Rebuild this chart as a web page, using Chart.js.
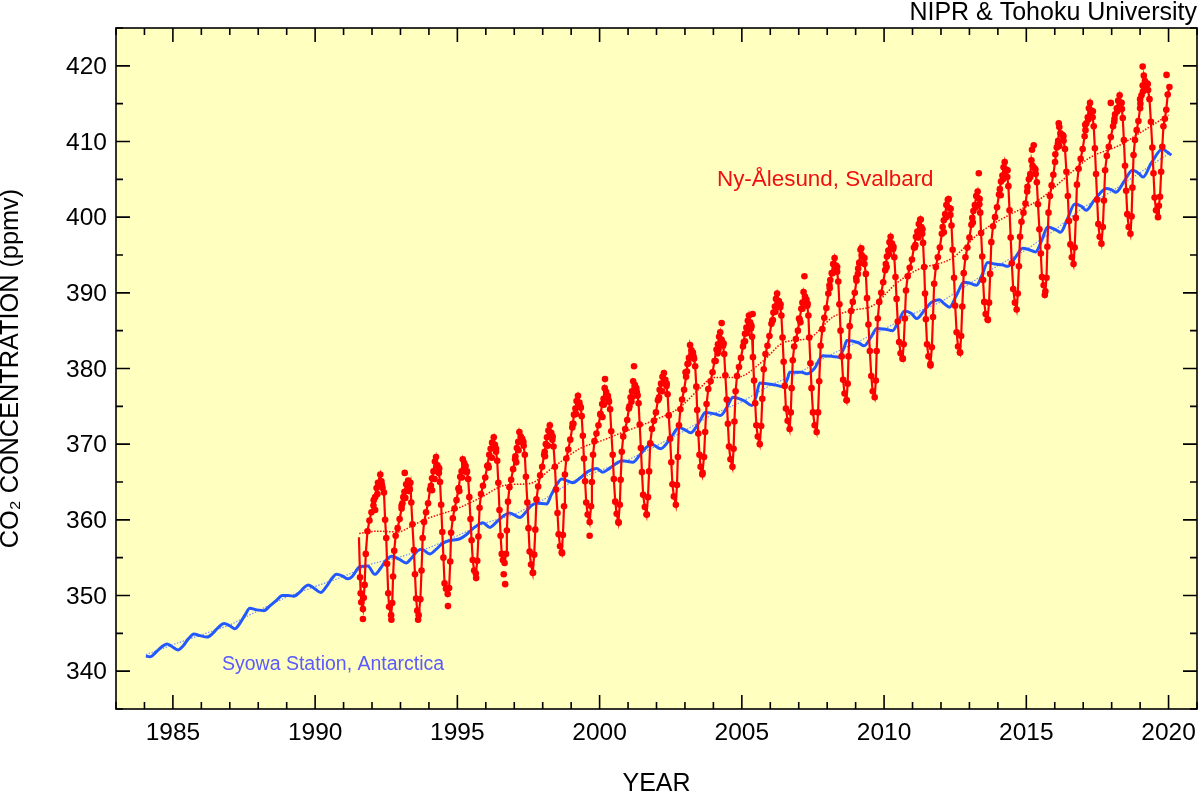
<!DOCTYPE html>
<html>
<head>
<meta charset="utf-8">
<title>CO2 concentration</title>
<script src="https://cdn.jsdelivr.net/npm/chart.js@4"></script>
<style>
  html, body { margin: 0; padding: 0; background: #fff; }
  canvas { display: block; }
</style>
</head>
<body>
<canvas id="co2Chart" width="1200" height="792"></canvas>
<script>
// ── DATA ──────────────────────────────────────────────────────────
// Ny-Ålesund: one row per seasonal cycle
const nyYears = [
  1991.54,1991.58,1991.60,1991.62,1991.68,
  1991.71,1991.74,1991.78,1991.84,1991.91,1991.98,1992.05,1992.11,1992.16,1992.21,1992.29,1992.33,1992.37,1992.42,1992.46,1992.50,1992.53,1992.57,1992.60,1992.67,
  1992.71,1992.74,1992.78,1992.83,1992.90,1992.97,1993.04,1993.10,1993.14,1993.20,1993.27,1993.31,1993.35,1993.38,1993.42,1993.47,1993.51,1993.55,1993.59,1993.64,
  1993.70,1993.74,1993.78,1993.83,1993.90,1993.97,1994.04,1994.11,1994.16,1994.21,1994.25,1994.30,1994.35,1994.39,1994.43,1994.47,1994.51,1994.55,1994.60,1994.66,
  1994.71,1994.75,1994.78,1994.84,1994.90,1994.97,1995.04,1995.10,1995.15,1995.19,1995.24,1995.29,1995.34,1995.38,1995.42,1995.46,1995.50,1995.54,1995.59,1995.65,
  1995.70,1995.74,1995.78,1995.83,1995.90,1995.98,1996.05,1996.12,1996.17,1996.22,1996.28,1996.32,1996.36,1996.40,1996.44,1996.48,1996.52,1996.56,1996.60,1996.66,
  1996.71,1996.74,1996.78,1996.83,1996.89,1996.96,1997.03,1997.09,1997.14,1997.18,1997.23,1997.28,1997.33,1997.37,1997.41,1997.46,1997.50,1997.54,1997.59,1997.65,
  1997.70,1997.74,1997.78,1997.84,1997.91,1997.98,1998.05,1998.11,1998.15,1998.20,1998.25,1998.30,1998.34,1998.38,1998.43,1998.47,1998.52,1998.56,1998.61,1998.67,
  1998.71,1998.75,1998.78,1998.83,1998.90,1998.97,1999.04,1999.10,1999.15,1999.19,1999.24,1999.29,1999.34,1999.37,1999.41,1999.45,1999.49,1999.53,1999.58,1999.65,
  1999.70,1999.73,1999.77,1999.82,1999.89,1999.96,2000.03,2000.09,2000.14,2000.18,2000.23,2000.29,2000.33,2000.37,2000.41,2000.46,2000.50,2000.55,2000.60,2000.66,
  2000.71,2000.74,2000.78,2000.83,2000.90,2000.97,2001.03,2001.09,2001.14,2001.18,2001.24,2001.29,2001.33,2001.37,2001.41,2001.45,2001.49,2001.53,2001.59,2001.65,
  2001.70,2001.74,2001.78,2001.84,2001.91,2001.98,2002.05,2002.11,2002.16,2002.21,2002.26,2002.31,2002.35,2002.39,2002.43,2002.48,2002.52,2002.56,2002.61,2002.68,
  2002.72,2002.75,2002.79,2002.84,2002.90,2002.97,2003.04,2003.09,2003.14,2003.18,2003.23,2003.28,2003.32,2003.36,2003.40,2003.43,2003.47,2003.51,2003.55,2003.61,
  2003.67,2003.71,2003.76,2003.82,2003.90,2003.97,2004.04,2004.11,2004.16,2004.20,2004.24,2004.29,2004.34,2004.38,2004.42,2004.47,2004.51,2004.55,2004.60,2004.67,
  2004.71,2004.74,2004.78,2004.83,2004.90,2004.97,2005.04,2005.11,2005.16,2005.21,2005.25,2005.29,2005.32,2005.36,2005.39,2005.43,2005.47,2005.51,2005.56,2005.63,
  2005.68,2005.72,2005.77,2005.83,2005.90,2005.97,2006.04,2006.11,2006.16,2006.20,2006.24,2006.30,2006.35,2006.39,2006.43,2006.47,2006.51,2006.55,2006.61,2006.68,
  2006.72,2006.75,2006.79,2006.84,2006.90,2006.97,2007.03,2007.09,2007.13,2007.17,2007.22,2007.27,2007.30,2007.34,2007.37,2007.41,2007.45,2007.50,2007.56,2007.63,
  2007.68,2007.72,2007.77,2007.83,2007.90,2007.97,2008.04,2008.11,2008.16,2008.21,2008.26,2008.31,2008.35,2008.39,2008.43,2008.47,2008.51,2008.56,2008.61,2008.68,
  2008.72,2008.75,2008.79,2008.84,2008.90,2008.97,2009.03,2009.09,2009.13,2009.17,2009.21,2009.27,2009.31,2009.36,2009.40,2009.45,2009.50,2009.55,2009.60,2009.67,
  2009.71,2009.74,2009.78,2009.83,2009.90,2009.97,2010.04,2010.10,2010.15,2010.19,2010.23,2010.28,2010.32,2010.36,2010.40,2010.44,2010.48,2010.53,2010.58,2010.65,
  2010.69,2010.73,2010.77,2010.83,2010.90,2010.98,2011.05,2011.12,2011.17,2011.22,2011.27,2011.31,2011.34,2011.37,2011.41,2011.44,2011.47,2011.51,2011.56,2011.63,
  2011.68,2011.72,2011.76,2011.82,2011.89,2011.96,2012.03,2012.10,2012.15,2012.19,2012.24,2012.29,2012.33,2012.37,2012.41,2012.46,2012.50,2012.55,2012.60,2012.67,
  2012.71,2012.75,2012.80,2012.86,2012.93,2013.00,2013.07,2013.14,2013.19,2013.24,2013.29,2013.32,2013.35,2013.38,2013.41,2013.45,2013.48,2013.52,2013.57,2013.64,
  2013.69,2013.73,2013.77,2013.83,2013.90,2013.97,2014.04,2014.11,2014.16,2014.20,2014.24,2014.29,2014.33,2014.37,2014.41,2014.45,2014.49,2014.54,2014.60,2014.66,
  2014.70,2014.74,2014.78,2014.83,2014.90,2014.97,2015.03,2015.09,2015.14,2015.18,2015.22,2015.28,2015.33,2015.37,2015.41,2015.46,2015.51,2015.55,2015.61,2015.67,
  2015.71,2015.74,2015.78,2015.83,2015.89,2015.95,2016.01,2016.07,2016.12,2016.16,2016.20,2016.26,2016.31,2016.36,2016.41,2016.46,2016.50,2016.55,2016.60,2016.66,
  2016.70,2016.74,2016.78,2016.84,2016.91,2016.98,2017.05,2017.11,2017.16,2017.20,2017.24,2017.29,2017.33,2017.37,2017.41,2017.45,2017.49,2017.53,2017.58,2017.64,
  2017.69,2017.73,2017.77,2017.83,2017.90,2017.97,2018.05,2018.12,2018.18,2018.23,2018.28,2018.32,2018.36,2018.39,2018.43,2018.47,2018.51,2018.55,2018.60,2018.66,
  2018.70,2018.73,2018.77,2018.82,2018.88,2018.94,2019.00,2019.05,2019.09,2019.13,2019.17,2019.23,2019.28,2019.33,2019.38,2019.43,2019.47,2019.51,2019.56,2019.63,
  2019.66,2019.70,2019.74,2019.78,2019.82,2019.87,2019.92,2019.97,2020.03
];
const nyValues = [
  357.7,352.4,350.3,349.1,348.2,
  349.7,351.4,355.5,358.5,359.9,361.0,361.9,363.0,364.2,364.9,366.0,365.1,364.2,363.6,360.0,357.6,354.2,350.3,348.5,347.4,
  349.0,352.5,355.9,357.9,358.9,360.1,361.5,363.0,363.7,364.7,365.2,364.3,364.9,362.3,359.4,356.0,352.8,349.6,348.0,347.4,
  349.5,353.3,357.6,359.7,361.0,362.2,364.0,365.5,366.4,367.7,368.3,367.2,366.2,365.0,362.0,358.4,355.0,351.6,350.9,350.2,
  351.0,354.5,358.3,360.2,361.5,362.6,364.1,365.7,366.4,368.0,367.5,367.1,366.4,365.4,363.0,360.1,357.3,354.7,353.3,352.9,
  354.6,357.8,361.6,363.4,364.5,365.6,367.1,368.6,369.4,370.2,370.9,369.9,369.0,367.8,364.9,361.3,357.9,355.5,354.7,354.3,
  355.5,358.6,362.4,364.3,365.3,366.7,368.0,369.5,370.3,371.6,371.0,370.7,369.8,368.6,365.7,362.3,358.9,355.8,354.1,353.0,
  355.4,358.7,362.7,364.4,365.9,367.0,368.6,370.0,370.9,371.8,372.5,371.5,370.6,369.7,367.0,364.0,360.9,358.1,356.5,355.7,
  358.0,361.8,366.0,368.1,369.3,370.6,372.2,373.9,374.7,375.7,376.4,375.5,374.8,373.7,371.1,368.1,365.1,362.3,360.7,359.7,
  361.8,365.0,368.6,370.4,371.4,372.5,373.9,375.3,376.0,377.4,376.9,376.4,375.6,374.6,371.7,368.6,365.4,362.4,360.8,359.7,
  362.0,365.3,369.0,371.0,372.0,373.2,374.7,376.2,377.0,378.3,377.8,377.4,376.5,375.4,372.6,369.5,366.3,363.3,361.7,360.7,
  363.0,366.4,370.1,372.0,373.1,374.2,375.8,377.2,378.0,378.9,379.4,378.5,377.7,376.6,373.8,370.7,367.6,364.7,363.1,362.0,
  364.6,368.3,372.5,374.6,375.9,377.2,378.9,380.6,381.4,383.1,382.4,382.1,381.3,380.3,377.6,374.5,371.4,368.6,367.0,366.0,
  368.3,371.6,375.3,377.3,378.3,379.5,381.0,382.5,383.2,384.2,384.8,383.8,383.0,381.9,379.1,375.9,372.7,369.7,368.0,367.0,
  369.4,373.0,377.0,379.0,380.2,381.4,382.9,384.6,385.4,386.3,387.0,386.1,385.3,384.2,381.5,378.4,375.4,372.5,371.0,370.0,
  372.4,376.0,379.9,381.9,383.0,384.3,385.9,387.4,388.2,389.2,389.9,388.9,388.1,387.0,384.1,380.9,377.7,374.7,373.1,372.0,
  374.2,377.4,381.1,382.9,383.9,385.0,386.5,387.9,388.7,390.1,389.5,389.1,388.3,387.0,384.1,380.7,377.4,374.2,372.5,371.6,
  374.2,378.3,383.0,385.2,386.7,388.0,389.9,391.7,392.6,393.8,394.6,393.6,392.8,391.5,388.5,385.0,381.6,378.5,376.7,375.8,
  378.0,381.6,385.6,387.6,388.8,390.0,391.6,393.2,394.0,395.7,395.0,394.7,393.8,392.5,389.3,385.8,382.3,379.0,377.0,376.2,
  378.4,382.3,386.6,388.8,390.0,391.4,393.0,394.8,395.6,396.7,397.4,396.5,395.8,394.7,392.1,389.2,386.2,383.5,382.0,381.3,
  383.2,386.6,390.3,392.2,393.3,394.4,396.0,397.4,398.1,399.1,399.7,398.7,397.8,396.6,393.4,389.9,386.5,383.2,381.6,380.6,
  382.8,386.8,391.2,393.4,394.7,396.0,397.8,399.6,400.4,401.6,402.3,401.2,400.3,398.9,395.7,392.0,388.3,384.8,382.9,382.1,
  384.3,388.2,392.6,394.7,396.0,397.3,399.0,400.8,401.6,402.8,403.4,402.5,401.7,400.6,397.9,394.8,391.7,388.8,387.2,386.5,
  388.7,392.5,396.7,398.8,400.0,401.3,403.0,404.7,405.5,406.6,407.3,406.3,405.3,404.1,400.9,397.3,393.9,390.5,388.7,387.8,
  389.9,393.5,397.4,399.4,400.6,401.8,403.4,405.0,405.7,407.5,406.8,406.5,405.7,404.6,401.7,398.4,395.2,392.1,391.0,390.2,
  392.0,396.1,400.6,402.8,404.2,405.6,407.3,409.2,410.1,411.9,411.1,410.9,410.1,409.0,406.0,402.8,399.5,396.4,394.7,393.8,
  396.0,399.9,404.3,406.4,407.7,409.0,410.7,412.4,413.2,414.4,415.1,414.1,413.2,412.0,409.1,405.7,402.3,399.1,397.4,396.5,
  398.7,402.2,406.2,408.1,409.3,410.6,412.0,413.6,414.4,415.4,416.1,415.1,414.3,413.1,410.2,406.8,403.5,400.4,398.7,397.8,
  400.1,403.9,408.2,410.2,411.5,412.7,414.4,416.1,417.4,418.7,418.0,417.7,416.8,415.6,412.6,409.2,405.8,402.6,400.9,400.0,
  401.5,402.7,406.0,409.3,412.0,413.0,414.2,416.2,417.2
];
// Ny-Ålesund dots that sit off the line
const nyStrayYears = [
  1991.68,1992.11,1992.24,1992.68,1993.15,1993.07,1993.30,1993.62,1994.11,1994.33,1994.67,1995.07,1995.27,1995.66,1996.10,1996.30,
  1996.63,1996.68,1997.07,1997.26,1997.66,1998.08,1998.30,1998.68,1999.08,1999.30,1999.65,2000.10,2000.19,2000.67,2001.21,2001.12,
  2001.33,2001.66,2002.09,2002.30,2003.07,2003.25,2003.62,2004.29,2004.15,2004.31,2005.38,2005.11,2005.31,2006.09,2006.28,2007.20,
  2007.06,2007.29,2008.09,2008.28,2008.69,2009.20,2009.08,2010.09,2010.30,2010.66,2011.29,2011.10,2011.63,2012.27,2012.10,2012.67,
  2013.33,2013.12,2013.65,2014.10,2014.28,2015.26,2015.20,2015.65,2016.14,2016.16,2016.30,2017.07,2017.27,2017.97,2018.10,2018.30,
  2019.09,2019.00,2019.20,2019.93
];
const nyStrayValues = [
  346.9,361.3,364.8,346.8,366.2,362.2,363.8,346.8,363.9,366.9,348.6,363.8,366.6,352.3,366.9,369.6,
  352.8,351.5,367.6,370.3,353.0,368.4,371.2,355.6,372.7,375.1,357.9,373.6,378.6,359.6,380.3,375.6,
  376.4,360.7,376.2,378.1,379.6,381.7,366.2,386.0,382.0,383.5,387.2,383.6,385.8,386.4,388.7,392.2,
  386.1,388.4,390.6,393.4,375.8,395.9,392.5,393.4,396.1,381.3,399.7,396.3,380.4,402.4,398.0,382.1,
  405.8,399.3,386.4,402.9,406.1,409.5,408.9,389.7,412.4,409.4,410.7,412.2,413.9,415.1,413.0,415.0,
  419.9,415.6,417.0,418.8
];
// Ny-Ålesund dots bunched around each spring maximum
const nyClusterYears = [
  1992.06,1992.19,1992.35,1993.04,1993.17,1993.33,1994.07,1994.20,1994.36,1995.05,1995.16,1995.33,
  1996.08,1996.21,1996.36,1997.04,1997.15,1997.32,1998.07,1998.18,1998.35,1999.05,1999.17,1999.33,
  2000.03,2000.15,2000.31,2001.05,2001.14,2001.31,2002.08,2002.20,2002.36,2003.02,2003.12,2003.30,
  2004.08,2004.18,2004.36,2005.07,2005.19,2005.34,2006.07,2006.18,2006.36,2007.01,2007.13,2007.31,
  2008.08,2008.19,2008.35,2009.02,2009.13,2009.31,2010.06,2010.17,2010.33,2011.08,2011.20,2011.35,
  2012.06,2012.18,2012.34,2013.10,2013.22,2013.36,2014.07,2014.18,2014.34,2015.04,2015.14,2015.32,
  2016.02,2016.11,2016.29,2017.08,2017.18,2017.34,2018.09,2018.20,2018.35,2019.01,2019.10,2019.27
];
const nyClusterValues = [
  362.6,363.4,364.6,361.9,362.9,364.0,364.5,365.4,366.8,364.2,365.6,366.3,
  367.2,368.2,369.4,368.4,369.2,370.3,369.0,369.8,371.0,372.7,374.0,374.9,
  374.0,375.2,375.9,375.0,376.2,376.9,376.0,377.0,378.0,379.5,380.7,381.6,
  381.0,382.5,383.3,383.5,384.7,385.6,386.3,387.5,388.5,386.6,387.9,388.6,
  391.0,392.6,393.4,392.0,393.9,394.6,393.8,395.1,396.1,396.0,397.3,398.4,
  398.7,400.0,401.1,399.9,401.3,402.4,403.7,405.0,406.2,404.0,405.3,406.3,
  408.3,409.7,410.8,411.5,412.9,414.0,412.6,414.0,415.1,415.0,416.6,417.6
];
// Ny-Ålesund smoothed trend
const nyTrendYears = [1991.55,1992.2,1992.9,1993.5,1993.9,1995.0,1995.8,1996.6,1997.1,1997.55,1998.35,1999.3,2000.1,2000.7,2001.87,2002.8,2003.5,2004.0,2004.8,2005.75,2006.45,2007.4,2008.2,2008.9,2009.6,2010.45,2011.15,2012.4,2013.35,2014.4,2015.45,2016.4,2017.2,2018.28,2018.98,2020.0];
const nyTrendValues = [358.2,358.5,358.4,359.4,360.1,361.5,362.9,364.5,364.7,364.8,366.9,369.4,370.5,371.4,373.1,374.8,377.3,378.8,378.8,381.0,383.4,384.1,386.8,387.7,388.3,391.3,393.0,394.6,397.9,400.3,402.3,405.3,407.8,409.5,411.1,413.5];

// Syowa Station
const syYears = [
  1984.05,1984.20,1984.40,1984.60,1984.79,1984.95,1985.18,1985.35,1985.55,1985.74,1985.95,1986.20,1986.40,1986.60,1986.80,1987.00,1987.18,1987.35,1987.55,1987.70,1987.95,
  1988.20,1988.40,1988.65,1988.85,1989.05,1989.25,1989.45,1989.60,1989.75,1989.95,1990.20,1990.40,1990.60,1990.75,1990.95,1991.15,1991.30,1991.57,1991.85,1992.10,1992.30,
  1992.50,1992.70,1992.95,1993.20,1993.40,1993.60,1993.75,1994.03,1994.25,1994.45,1994.67,1995.09,1995.30,1995.60,1995.90,1996.14,1996.40,1996.65,1996.84,1997.20,1997.40,
  1997.60,1997.80,1998.14,1998.30,1998.50,1998.67,1998.90,1999.06,1999.30,1999.60,1999.90,2000.10,2000.35,2000.60,2000.80,2001.17,2001.40,2001.65,2001.83,2002.15,2002.40,
  2002.60,2002.78,2003.00,2003.20,2003.45,2003.60,2003.70,2004.05,2004.25,2004.45,2004.60,2004.68,2005.10,2005.35,2005.50,2005.63,2006.20,2006.45,2006.60,2006.68,2007.10,
  2007.30,2007.55,2007.84,2008.20,2008.40,2008.60,2008.69,2009.10,2009.30,2009.55,2009.74,2010.05,2010.30,2010.50,2010.72,2010.95,2011.15,2011.40,2011.65,2011.95,2012.10,
  2012.30,2012.55,2012.80,2013.00,2013.25,2013.45,2013.64,2013.90,2014.15,2014.35,2014.60,2014.87,2015.10,2015.32,2015.55,2015.75,2016.05,2016.20,2016.45,2016.70,2016.95,
  2017.10,2017.40,2017.82,2018.00,2018.15,2018.45,2018.73,2018.95,2019.10,2019.40,2019.79,2019.95,2020.10
];
const syValues = [
  342.0,341.9,342.5,343.2,343.6,343.3,342.8,343.3,344.3,344.9,344.7,344.5,345.0,345.8,346.3,346.0,345.6,346.3,347.5,348.3,348.1,
  348.0,348.6,349.4,350.0,350.0,349.9,350.4,351.0,351.4,351.0,350.4,351.2,352.3,352.8,352.6,352.2,352.5,353.8,353.9,352.8,353.6,
  354.7,355.2,354.8,354.3,355.0,355.9,356.1,355.5,356.1,356.8,357.2,357.5,358.0,359.0,359.6,359.0,359.8,360.6,360.9,360.3,361.0,
  361.9,362.2,362.1,363.3,364.7,365.4,365.1,364.9,365.5,366.4,366.8,366.3,366.8,367.5,367.8,367.6,368.5,369.6,370.0,369.4,370.3,
  371.4,372.2,371.9,371.5,372.6,373.6,374.2,374.0,373.8,374.7,375.8,376.2,375.7,375.1,376.3,378.1,377.8,377.6,378.6,379.5,379.5,
  379.3,380.0,381.7,381.6,381.5,382.8,383.7,383.4,383.0,384.2,385.3,385.2,385.0,386.2,387.6,387.3,386.6,387.6,388.7,389.1,388.6,
  388.1,389.7,391.4,391.3,391.0,392.4,394.0,393.8,393.7,393.5,394.6,395.9,395.7,395.4,397.0,398.7,398.3,398.0,399.8,401.7,401.4,
  400.9,402.3,403.8,403.6,403.3,404.8,406.2,405.8,405.3,407.2,409.0,408.6,408.2
];
// Syowa smoothed trend
const syTrendYears = [1984.05,1985,1986,1987,1988,1989,1990,1991,1992,1993,1994,1995,1996,1997,1998,1999,2000,2001,2002,2003,2004,2005,2006,2007,2008,2009,2010,2011,2012,2013,2014,2015,2016,2017,2018,2019,2020.05];
const syTrendValues = [342.2,343.5,344.8,346.1,348.0,349.8,351.2,352.5,354.2,355.1,356.3,357.9,359.6,360.7,362.6,365.0,366.5,367.9,369.8,371.8,374.0,375.6,377.8,379.4,381.6,383.4,385.2,387.2,388.8,391.2,393.6,395.7,398.3,401.3,403.4,405.9,408.5];

// ── HELPERS ───────────────────────────────────────────────────────
const RED = '#ff0000';
const BLUE = '#2458ff';
const FONT = '"Liberation Sans", Arial, sans-serif';

function toPoints(xs, ys) {
  return xs.map((x, i) => ({ x: x, y: ys[i] }));
}

// inward tick marks and the plot frame
const framePlugin = {
  id: 'frame',
  beforeDatasetsDraw(chart) {
    const { ctx, chartArea: a } = chart;
    ctx.save();
    ctx.fillStyle = '#ffffc0';
    ctx.fillRect(a.left, a.top, a.width, a.height);
    ctx.restore();
  },
  afterDatasetsDraw(chart) {
    const { ctx, chartArea: a, scales } = chart;
    ctx.save();
    ctx.strokeStyle = '#000';
    ctx.lineWidth = 1.6;
    ctx.strokeRect(a.left, a.top, a.width, a.height);
    ctx.beginPath();
    scales.x.ticks.forEach(t => {
      const px = scales.x.getPixelForValue(t.value);
      const len = t.value % 5 === 0 ? 14 : 7;
      ctx.moveTo(px, a.bottom);
      ctx.lineTo(px, a.bottom - len);
      ctx.moveTo(px, a.top);
      ctx.lineTo(px, a.top + len);
    });
    scales.y.ticks.forEach(t => {
      const py = scales.y.getPixelForValue(t.value);
      const len = t.value % 10 === 0 ? 14 : 7;
      ctx.moveTo(a.left, py);
      ctx.lineTo(a.left + len, py);
      ctx.moveTo(a.right, py);
      ctx.lineTo(a.right - len, py);
    });
    ctx.stroke();

    ctx.textBaseline = 'alphabetic';
    ctx.textAlign = 'right';
    ctx.fillStyle = '#000';
    ctx.font = '25px ' + FONT;
    ctx.fillText('NIPR & Tohoku University', 1197, 20);
    ctx.textAlign = 'left';
    ctx.fillStyle = '#f01010';
    ctx.font = '22.4px ' + FONT;
    ctx.fillText('Ny-Ålesund, Svalbard', 717, 186);
    ctx.fillStyle = '#5a5aff';
    ctx.font = '19.5px ' + FONT;
    ctx.fillText('Syowa Station, Antarctica', 222, 670);
    ctx.restore();
  }
};

// ── CHART ─────────────────────────────────────────────────────────
new Chart(document.getElementById('co2Chart'), {
  type: 'scatter',
  plugins: [framePlugin],
  data: {
    datasets: [
      { label: 'Ny-Ålesund strays', order: 1, data: toPoints(nyStrayYears, nyStrayValues), showLine: false,
        pointRadius: 3.3, backgroundColor: RED, borderColor: RED, borderWidth: 0 },
      { label: 'Ny-Ålesund cluster', order: 1, data: toPoints(nyClusterYears, nyClusterValues), showLine: false,
        pointRadius: 3.3, backgroundColor: RED, borderColor: RED, borderWidth: 0 },
      { label: 'Ny-Ålesund', order: 2, data: toPoints(nyYears, nyValues), showLine: true, borderColor: RED, borderWidth: 2.2,
        backgroundColor: RED, pointBackgroundColor: RED, pointBorderWidth: 0,
        pointRadius: ctx => ctx.dataIndex === 0 ? 0 : 3.3 },
      { label: 'Ny-Ålesund trend', order: 3, data: toPoints(nyTrendYears, nyTrendValues), showLine: true, cubicInterpolationMode: 'monotone',
        borderColor: RED, borderWidth: 1.5, borderDash: [1.5, 1.5], pointRadius: 0 },
      { label: 'Syowa', order: 4, data: toPoints(syYears, syValues), showLine: true, cubicInterpolationMode: 'monotone',
        borderColor: BLUE, borderWidth: 3, pointRadius: 0 },
      { label: 'Syowa trend', order: 5, data: toPoints(syTrendYears, syTrendValues), showLine: true,
        borderColor: '#6f8cff', borderWidth: 1.2, borderDash: [1.5, 1.5], pointRadius: 0 }
    ]
  },
  options: {
    responsive: false,
    animation: false,
    layout: { autoPadding: false, padding: { top: 28, right: 3, left: 0, bottom: 0 } },
    plugins: { legend: { display: false }, tooltip: { enabled: false } },
    scales: {
      x: {
        type: 'linear',
        min: 1983,
        max: 2021,
        afterFit(scale) { scale.height = 83; },
        grid: { display: false },
        border: { display: false },
        ticks: {
          stepSize: 1,
          autoSkip: false,
          maxRotation: 0,
          padding: 2,
          color: '#000',
          font: { family: FONT, size: 24.5 },
          callback: v => v % 5 === 0 ? String(v) : ''
        },
        title: {
          display: true,
          text: 'YEAR',
          color: '#000',
          font: { family: FONT, size: 25 },
          padding: { top: 0, bottom: -7 }
        }
      },
      y: {
        type: 'linear',
        min: 335,
        max: 425,
        afterFit(scale) { scale.width = 116; },
        grid: { display: false },
        border: { display: false },
        ticks: {
          stepSize: 5,
          autoSkip: false,
          padding: 1,
          labelOffset: 1.5,
          color: '#000',
          font: { family: FONT, size: 24.5 },
          callback: v => v % 10 === 0 ? String(v) : ''
        },
        title: {
          display: true,
          text: 'CO₂ CONCENTRATION (ppmv)',
          color: '#000',
          font: { family: FONT, size: 25.3 },
          padding: { top: -4, bottom: 0 }
        }
      }
    }
  }
});
</script>
</body>
</html>
